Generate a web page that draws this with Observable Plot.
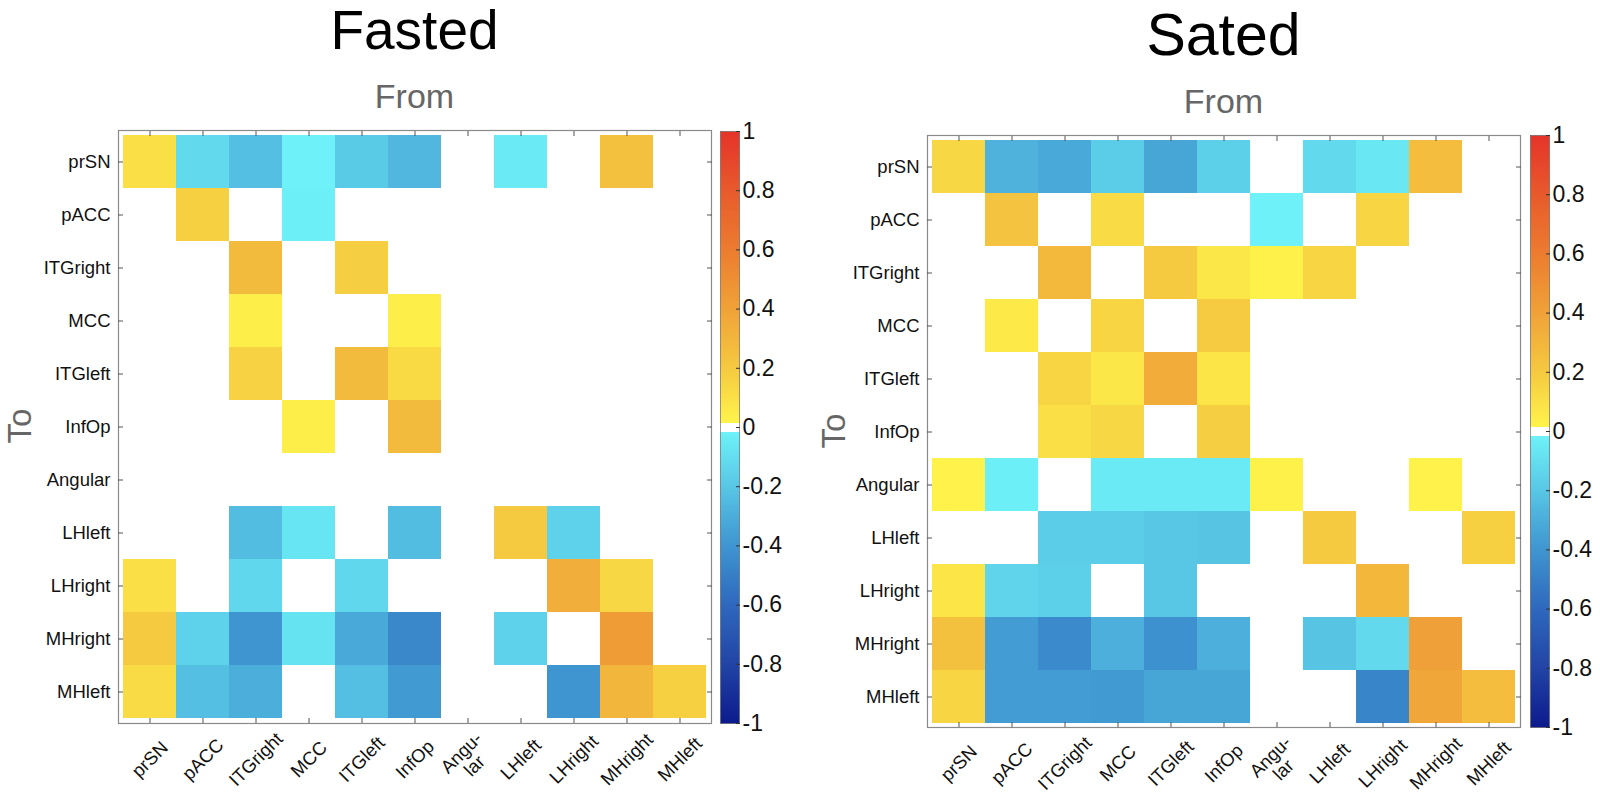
<!DOCTYPE html>
<html><head><meta charset="utf-8">
<script src="https://cdn.jsdelivr.net/npm/d3@7"></script>
<script src="https://cdn.jsdelivr.net/npm/@observablehq/plot@0.6"></script>
<style>
html,body{margin:0;padding:0;background:#fff;}
#root{position:relative;width:1600px;height:801px;overflow:hidden;}
.panel{position:absolute;top:0;}
</style></head><body><div id="root"></div>
<script>
// ---------- data ----------
const regions = ["prSN","pACC","ITGright","MCC","ITGleft","InfOp","Angular","LHleft","LHright","MHright","MHleft"];
const xTickLabels = ["prSN","pACC","ITGright","MCC","ITGleft","InfOp","Angu-\nlar","LHleft","LHright","MHright","MHleft"];
const colorbarTicks = [-1,-0.8,-0.6,-0.4,-0.2,0,0.2,0.4,0.6,0.8,1];
const colorStops = [-1,-0.8,-0.6,-0.4,-0.2,-0.016,-0.015,0.015,0.016,0.2,0.4,0.6,0.8,1];
const colorRange = ["#0c1a8c","#2244a6","#2e68bd","#3f95d0","#58c6e5","#6ef2f8","#ffffff","#ffffff","#fff44b","#f5c940","#f0a238","#ec7c2f","#e85a2b","#e5332a"];

// rows = To, columns = From (null = no connection)
const fastedValues = [
  [0.10,-0.12,-0.23,-0.02,-0.18,-0.26,null,-0.05,null,0.24,null],
  [null,0.17,null,-0.03,null,null,null,null,null,null,null],
  [null,null,0.27,null,0.18,null,null,null,null,null,null],
  [null,null,0.04,null,null,0.04,null,null,null,null,null],
  [null,null,0.16,null,0.27,0.13,null,null,null,null,null],
  [null,null,null,0.04,null,0.27,null,null,null,null,null],
  [null,null,null,null,null,null,null,null,null,null,null],
  [null,null,-0.24,-0.07,null,-0.24,null,0.20,-0.15,null,null],
  [0.10,null,-0.13,null,-0.13,null,null,null,0.34,0.14,null],
  [0.20,-0.15,-0.40,-0.08,-0.32,-0.46,null,-0.15,null,0.43,null],
  [0.12,-0.23,-0.30,null,-0.23,-0.38,null,null,-0.40,0.30,0.17]
];
const satedValues = [
  [0.14,-0.28,-0.32,-0.17,-0.33,-0.16,null,-0.12,-0.06,0.26,null],
  [null,0.23,null,0.12,null,null,-0.02,null,0.15,null,null],
  [null,null,0.28,null,0.20,0.07,0.03,0.15,null,null,null],
  [null,0.06,null,0.15,null,0.19,null,null,null,null,null],
  [null,null,0.15,0.07,0.35,0.08,null,null,null,null,null],
  [null,null,0.10,0.14,null,0.18,null,null,null,null,null],
  [0.02,-0.03,null,-0.05,-0.05,-0.05,0.03,null,null,0.02,null],
  [null,null,-0.17,-0.17,-0.20,-0.21,null,0.20,null,null,0.17],
  [0.08,-0.14,-0.16,null,-0.20,null,null,null,0.29,null,null],
  [0.24,-0.37,-0.45,-0.29,-0.42,-0.29,null,-0.21,-0.12,0.41,null],
  [0.15,-0.37,-0.37,-0.38,-0.33,-0.33,null,null,-0.47,0.38,0.26]
];

// ---------- drawing ----------
const FONT = '"Liberation Sans", Arial, sans-serif';
const colorScale = {type: "linear", domain: colorStops, range: colorRange, clamp: true};
const xLabelOf = Object.fromEntries(regions.map((r, i) => [r, xTickLabels[i]]));
const root = document.getElementById("root");

function table(values) {
  return values.flatMap((row, i) => row.map((v, j) => ({to: regions[i], from: regions[j], value: v})))
    .filter(d => d.value != null);
}

function panel(o) {
  const svg = Plot.plot({
    width: o.width, height: 801,
    marginLeft: o.mL, marginRight: o.mR, marginTop: o.mT, marginBottom: o.mB,
    style: {fontFamily: FONT, fontSize: "18px", color: "#111", background: "transparent", overflow: "visible"},
    x: {type: "band", domain: regions, padding: 0, label: null},
    y: {type: "band", domain: regions, padding: 0, label: null},
    color: colorScale,
    marks: [
      Plot.cell(table(o.values), {x: "from", y: "to", fill: "value", inset: 0}),
      Plot.frame({stroke: "#8a8a8a", strokeWidth: 1.2}),
      Plot.axisX({anchor: "bottom", tickSize: 5, dy: -5, stroke: "#555", tickFormat: () => "", label: null}),
      Plot.axisX({anchor: "top", tickSize: 5, dy: 5, stroke: "#555", tickFormat: () => "", label: null}),
      Plot.axisY({anchor: "left", tickSize: 5, dx: 5, stroke: "#555", tickFormat: () => "", label: null}),
      Plot.axisY({anchor: "right", tickSize: 5, dx: -5, stroke: "#555", tickFormat: () => "", label: null}),
      Plot.axisX({anchor: "bottom", tickSize: 0, tickPadding: 36, tickRotate: -45, textAnchor: "middle", lineAnchor: "middle",
        tickFormat: d => xLabelOf[d], fontSize: 18.5, fill: "#111", label: null}),
      Plot.axisY({anchor: "left", tickSize: 0, tickPadding: 8, fontSize: 18.5, fill: "#111", label: null})
    ]
  });
  svg.classList.add("panel");
  svg.style.left = o.left + "px";
  svg.style.position = "absolute";
  const s = d3.select(svg);
  s.append("text").attr("x", o.cx).attr("y", o.titleY).attr("text-anchor", "middle")
    .attr("font-family", FONT).attr("font-size", o.titleSize).attr("fill", "#000").text(o.title);
  s.append("text").attr("x", o.cx).attr("y", o.fromY).attr("text-anchor", "middle")
    .attr("font-family", FONT).attr("font-size", 34).attr("fill", "#666").text("From");
  s.append("text").attr("transform", `translate(${o.toX},${o.toY}) rotate(-90)`).attr("text-anchor", "middle")
    .attr("font-family", FONT).attr("font-size", 33).attr("fill", "#666").text("To");
  root.appendChild(svg);

  const cb = Plot.plot({
    width: o.cbWidth, height: 801,
    marginLeft: 0, marginRight: o.cbWidth - 19, marginTop: o.mT + o.cbDT, marginBottom: o.mB,
    style: {fontFamily: FONT, fontSize: "23px", color: "#111", background: "transparent", overflow: "visible"},
    x: {domain: [0, 1], axis: null},
    y: {domain: [-1, 1], label: null, axis: null},
    color: colorScale,
    marks: [
      Plot.raster({x1: 0, x2: 1, y1: -1, y2: 1, width: 1, height: 600, fill: (x, y) => y, imageRendering: "pixelated"}),
      Plot.frame({stroke: "#555", strokeWidth: 0.6}),
      Plot.axisY({anchor: "right", ticks: colorbarTicks, tickSize: 4, dx: -4, stroke: "#333", tickFormat: () => "", label: null}),
      Plot.axisY({anchor: "right", ticks: colorbarTicks, tickSize: 0, tickPadding: 3, fontSize: 23, fill: "#111",
        tickFormat: d => String(+d.toFixed(1)), label: null})
    ]
  });
  cb.style.position = "absolute";
  cb.style.top = "0px";
  cb.style.left = o.cbLeft + "px";
  root.appendChild(cb);
}

panel({values: fastedValues, left: 0, width: 720, mL: 118, mR: 9, mT: 130, mB: 78,
  cx: 414.5, title: "Fasted", titleY: 49, titleSize: 55, fromY: 108, toX: 31, toY: 426,
  cbLeft: 720, cbWidth: 80, cbDT: 1});
panel({values: satedValues, left: 800, width: 730, mL: 127, mR: 10, mT: 135, mB: 74,
  cx: 423.5, title: "Sated", titleY: 55, titleSize: 59, fromY: 113, toX: 45, toY: 431,
  cbLeft: 1530, cbWidth: 70, cbDT: 0});
</script></body></html>
